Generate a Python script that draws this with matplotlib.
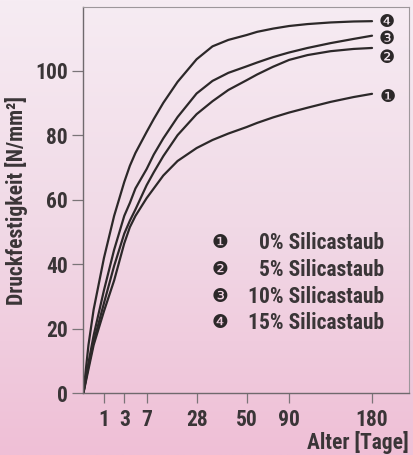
import matplotlib
matplotlib.use("Agg")
import matplotlib.pyplot as plt
import numpy as np
from matplotlib.colors import LinearSegmentedColormap

days = [0, 0.25, 0.5, 1, 2, 3, 4, 5, 7, 10, 14, 20, 28, 35, 42, 50, 60, 75, 90, 110, 135, 160, 180]

# compressive strength [N/mm2] per silica fume content
sf_0 = [0, 7.5, 15, 25.5, 35, 46.5, 51.5, 55, 60.5, 63.5, 67.5, 72, 76, 78.5, 80.5, 82.5, 83.8, 85.5, 87, 88.5, 90.3, 91.8, 92.8]
sf_5 = [0, 8.5, 16, 28, 39.5, 49.5, 53.5, 57, 64.5, 68.5, 73.5, 80, 86.5, 90.5, 94, 97, 98.8, 101.2, 103.3, 104.8, 106, 106.7, 107]
sf_10 = [0, 9.5, 18, 32, 44.5, 55, 59, 63.5, 69.5, 74, 79, 85.6, 92.9, 96.8, 99.3, 101.3, 102.5, 104.2, 105.6, 107, 108.5, 109.8, 110.8]
sf_15 = [0, 15, 26, 42, 55, 65.5, 70.5, 74.5, 81, 85, 90, 96.5, 103.5, 107.5, 109.5, 111, 112, 113, 113.8, 114.4, 114.9, 115.2, 115.3]

series = [sf_0, sf_5, sf_10, sf_15]
markers = ["\u2776", "\u2777", "\u2778", "\u2779"]
legend_labels = ["0% Silicastaub", "5% Silicastaub", "10% Silicastaub", "15% Silicastaub"]

x_ticks = [1, 3, 7, 28, 50, 90, 180]
y_ticks = [0, 20, 40, 60, 80, 100]

# the age axis is drawn schematically: piecewise linear between the labelled ages
scale_days = [0, 1, 3, 7, 28, 50, 90, 180, 220]
scale_pos = [0, 20.7, 41, 63.4, 113.4, 163.4, 206, 289, 326]


def fwd(x):
    return np.interp(x, scale_days, scale_pos)


def inv(p):
    return np.interp(p, scale_pos, scale_days)


FONT = ["Roboto Condensed", "Barlow Semi Condensed", "DejaVu Sans"]
TXT = "#3a3537"
INK = "#2c2829"
FS = 15.5

plt.rcParams["font.family"] = FONT
plt.rcParams["font.weight"] = "bold"
plt.rcParams["axes.labelweight"] = "bold"

fig = plt.figure(figsize=(4.13, 4.55), dpi=100)

# pink vertical gradient background
bg = fig.add_axes([0, 0, 1, 1], zorder=-1)
cmap = LinearSegmentedColormap.from_list("bg", ["#f6ecf3", "#f1d9e6", "#efbfd6"])
bg.imshow(np.linspace(0, 1, 256).reshape(-1, 1), aspect="auto", cmap=cmap, extent=[0, 1, 0, 1])
bg.set_axis_off()

ax = fig.add_axes([0.2017, 0.1352, 0.7886, 0.8488])
ax.set_facecolor("none")
ax.set_xscale("function", functions=(fwd, inv))

for vals in series:
    ax.plot(days, vals, color=INK, lw=1.6, solid_capstyle="round", solid_joinstyle="round")

ax.set_xlim(0, 220)
ax.set_ylim(0, 119.6)
ax.set_xticks(x_ticks)
ax.set_xticklabels([str(t) for t in x_ticks])
ax.set_yticks(y_ticks)
ax.minorticks_off()

ax.tick_params(axis="x", direction="out", length=7, width=0.9, color="#7a7478",
               pad=4, labelsize=FS, labelcolor=TXT)
ax.tick_params(axis="y", direction="out", length=8, width=0.9, color="#7a7478",
               pad=3, labelsize=FS, labelcolor=TXT)

for side in ["left", "bottom"]:
    ax.spines[side].set_color("#6f696d")
    ax.spines[side].set_linewidth(1.0)
for side in ["top", "right"]:
    ax.spines[side].set_color("#9d979b")
    ax.spines[side].set_linewidth(0.8)

ax.set_ylabel("Druckfestigkeit [N/mm\u00b2]", fontsize=FS, color=TXT, va="center")
ax.yaxis.set_label_coords(-0.2036, 0.5)
ax.set_xlabel("Alter [Tage]", fontsize=FS, color=TXT, ha="right", va="center")
ax.xaxis.set_label_coords(1.0, -0.126)

# numbered circles at the curve ends
end_offsets = [(11.5, -2.2), (10.8, -7.2), (10.8, -2.0), (10.8, -0.4)]
for vals, mk, off in zip(series, markers, end_offsets):
    ax.annotate(mk, xy=(days[-1], vals[-1]), xytext=off, textcoords="offset points",
                ha="center", va="center", fontsize=13, color=INK,
                family=["DejaVu Sans"], fontweight="normal")

# legend block
leg_y = [0.3897, 0.3198, 0.2499, 0.1826]
for mk, lab, yy in zip(markers, legend_labels, leg_y):
    ax.text(0.4197, yy, mk, transform=ax.transAxes, ha="center", va="center",
            fontsize=13.5, color=INK, family=["DejaVu Sans"], fontweight="normal")
    ax.text(0.9232, yy, lab, transform=ax.transAxes, ha="right", va="center",
            fontsize=FS, color=TXT)

fig.savefig("out.png", dpi=100)
